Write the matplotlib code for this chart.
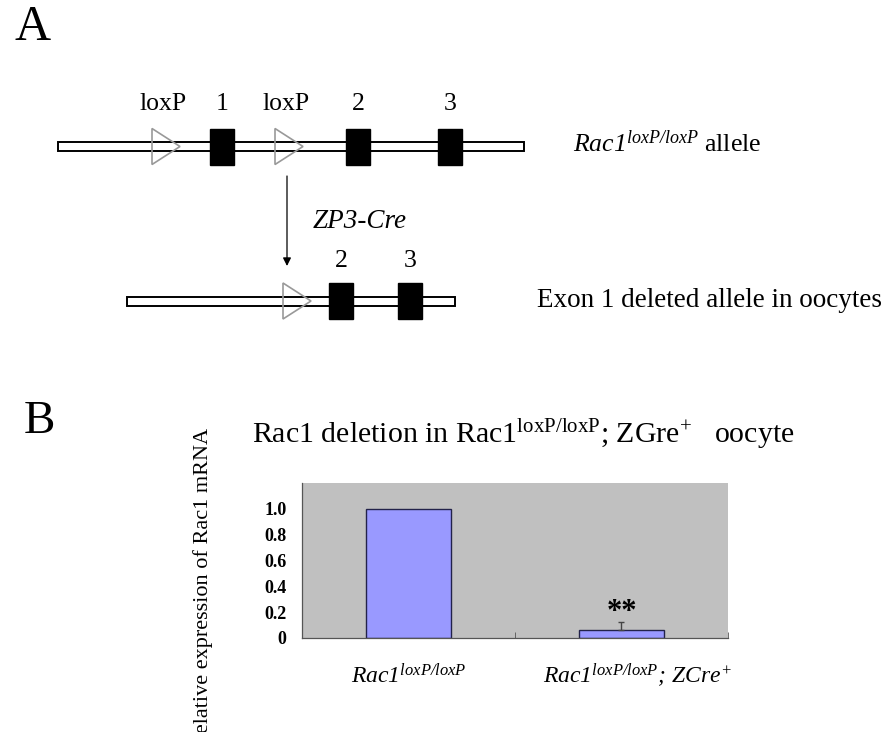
import matplotlib
matplotlib.use("Agg")
import matplotlib.pyplot as plt
from matplotlib.patches import Rectangle, Polygon
from matplotlib.transforms import blended_transform_factory

plt.rcParams['font.family'] = ['Liberation Serif', 'DejaVu Serif']
# rm = kursiv (auch die Ziffern), sf = aufrecht
plt.rcParams['mathtext.fontset'] = 'custom'
plt.rcParams['mathtext.rm'] = 'Liberation Serif:italic'
plt.rcParams['mathtext.it'] = 'Liberation Serif:italic'
plt.rcParams['mathtext.sf'] = 'Liberation Serif'
plt.rcParams['mathtext.bf'] = 'Liberation Serif:bold'

# daten fuer panel B
group_labels = [r'$\mathrm{Rac1^{loxP/loxP}}$',
                r'$\mathrm{Rac1^{loxP/loxP};\,ZCre^{+}}$']
rel_expr = [1.0, 0.06]
rel_err = [0.0, 0.065]
signif = ['', '**']
y_ticks = [0, 0.2, 0.4, 0.6, 0.8, 1.0]
y_tick_labels = ['0', '0.2', '0.4', '0.6', '0.8', '1.0']
label_shift = [0, 16]  # px, zweites label sitzt etwas rechts

# schema panel A (pixel layout)
top_exons = ['1', '2', '3']
top_exon_x = [222, 358, 450]
top_loxp_x = [166, 289]
bottom_exons = ['2', '3']
bottom_exon_x = [341, 410]
bottom_loxp_x = [297]

fig = plt.figure(figsize=(8.95, 7.32), dpi=100)
ax0 = fig.add_axes([0, 0, 1, 1])
ax0.set_xlim(0, 895)
ax0.set_ylim(732, 0)
ax0.axis('off')


def allele(y, x0, x1, exon_x, exon_names, loxp_x, loxp_label):
    ax0.add_patch(Rectangle((x0, y - 4.5), x1 - x0, 9, facecolor='white',
                            edgecolor='black', lw=1.4, zorder=1))
    for x, name in zip(exon_x, exon_names):
        ax0.add_patch(Rectangle((x - 12, y - 18), 24, 36, facecolor='black',
                                edgecolor='black', zorder=3))
        ax0.text(x, y - 37 if loxp_label else y - 34, name, ha='center',
                 va='baseline', fontsize=18.5)
    for x in loxp_x:
        ax0.add_patch(Polygon([(x - 14, y - 18), (x - 14, y + 18), (x + 14, y)],
                              closed=True, fill=False, edgecolor='#999999',
                              lw=1.2, zorder=2))
        if loxp_label:
            ax0.text(x - 3, y - 37, 'loxP', ha='center', va='baseline', fontsize=18.5)


allele(146.5, 58, 524, top_exon_x, top_exons, top_loxp_x, True)
allele(301, 127, 455, bottom_exon_x, bottom_exons, bottom_loxp_x, False)

ax0.text(15, 40, 'A', fontsize=36, va='baseline')
ax0.text(24, 433, 'B', fontsize=34, va='baseline')
ax0.text(573, 152, r'$\mathrm{Rac1^{loxP/loxP}}$ allele', fontsize=18.5, va='baseline')
ax0.text(537, 307, 'Exon 1 deleted allele in oocytes', fontsize=19.5, va='baseline')
ax0.text(313, 228, 'ZP3-Cre', fontsize=19.5, style='italic', va='baseline')
ax0.annotate('', xy=(287, 266), xytext=(287, 176),
             arrowprops=dict(arrowstyle='-|>', color='black', lw=0.9,
                             mutation_scale=12, shrinkA=0, shrinkB=0))

ax0.text(523, 443, r'Rac1 deletion in $\mathsf{Rac1^{loxP/loxP}}$; $\mathsf{ZGre^{+}}$   oocyte',
         ha='center', va='baseline', fontsize=21.5)
ax0.text(203, 428, 'Relative expression of Rac1 mRNA', rotation=90,
         ha='center', va='top', fontsize=16)

# balkendiagramm
ax = fig.add_axes([302 / 895, (732 - 638) / 732, 426 / 895, 155 / 732])
ax.set_facecolor('#c0c0c0')
pos = [i + 0.5 for i in range(len(rel_expr))]
ax.bar(pos, rel_expr, width=0.4, color='#9999ff', edgecolor='#22224a', lw=1, zorder=2)
for p, v, e, s in zip(pos, rel_expr, rel_err, signif):
    if e > 0:
        ax.errorbar([p], [v], yerr=[[0], [e]], fmt='none', ecolor='#444444',
                    elinewidth=1, capsize=2.5, capthick=1, zorder=3)
    if s:
        ax.annotate(s, (p, v + e), xytext=(0, -4), textcoords='offset points',
                    ha='center', va='bottom', fontsize=22, fontweight='bold')
ax.set_xlim(0, len(rel_expr))
ax.set_ylim(0, 1.2)
ax.set_yticks(y_ticks)
ax.set_yticklabels(y_tick_labels, fontweight='bold', fontsize=13)
ax.tick_params(axis='y', length=0, pad=11)
ax.set_xticks([])
ax.set_xticks(range(1, len(rel_expr) + 1), minor=True)
ax.tick_params(axis='x', which='minor', direction='in', length=4, color='#555555')
for side in ['top', 'right']:
    ax.spines[side].set_visible(False)
for side in ['left', 'bottom']:
    ax.spines[side].set_color('#555555')
    ax.spines[side].set_linewidth(0.9)
trans = blended_transform_factory(ax.transData, ax.transAxes)
for p, lab, dx in zip(pos, group_labels, label_shift):
    ax.annotate(lab, (p, -0.29), xycoords=trans, xytext=(dx, 0),
                textcoords='offset pixels', ha='center', va='baseline', fontsize=17)

fig.savefig('out.png', dpi=100)
